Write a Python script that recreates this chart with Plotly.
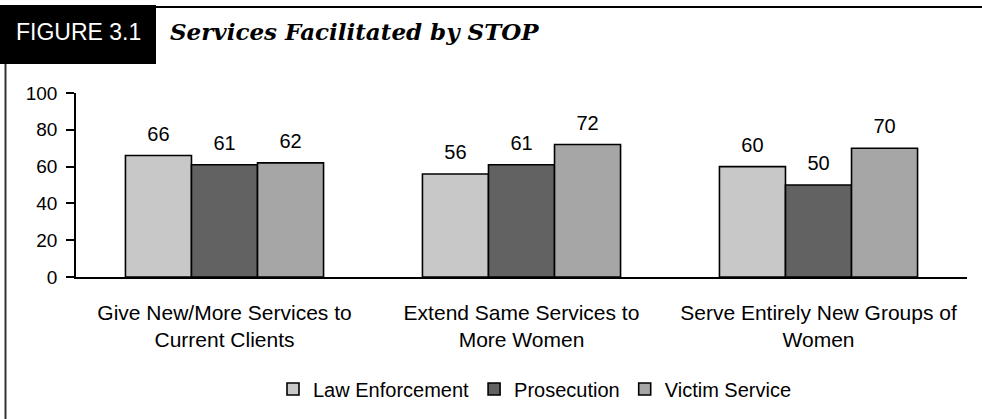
import plotly.graph_objects as go

categories = ["Give New/More Services to<br>Current Clients",
              "Extend Same Services to<br>More Women",
              "Serve Entirely New Groups of<br>Women"]
series_names = ["Law Enforcement", "Prosecution", "Victim Service"]
law_enforcement = [66, 56, 60]
prosecution = [61, 61, 50]
victim_service = [62, 72, 70]
series_values = [law_enforcement, prosecution, victim_service]
colors = ["#C8C8C8", "#626262", "#A6A6A6"]
y_ticks = [0, 20, 40, 60, 80, 100]

W, H = 982, 419
L, R, T, B = 76, 15, 93, 142
pw = W - L - R
ph = H - T - B

def px_x(x):
    return (x - L) / pw

def px_y(y):
    return (H - B - y) / ph

FONT = "Liberation Sans, Arial, sans-serif"

fig = go.Figure()
for name, vals, col in zip(series_names, series_values, colors):
    fig.add_trace(go.Bar(
        x=categories, y=vals, name=name,
        marker=dict(color=col, line=dict(color="black", width=1.6)),
        offsetgroup=name,
    ))
for name, vals in zip(series_names, series_values):
    fig.add_trace(go.Scatter(
        x=categories, y=vals, mode="markers+text", text=[str(v) for v in vals],
        textposition="top center", showlegend=False, hoverinfo="skip",
        offsetgroup=name, marker=dict(size=14, opacity=0),
        textfont=dict(family=FONT, size=20, color="black"),
        cliponaxis=False,
    ))

shapes = [
    dict(type="rect", xref="paper", yref="paper",
         x0=px_x(0), x1=px_x(156), y0=px_y(64), y1=px_y(5),
         fillcolor="black", line=dict(width=0), layer="above"),
    dict(type="line", xref="paper", yref="paper",
         x0=px_x(156), x1=px_x(982), y0=px_y(7), y1=px_y(7),
         line=dict(color="black", width=2)),
    dict(type="line", xref="paper", yref="paper",
         x0=px_x(5.5), x1=px_x(5.5), y0=px_y(64), y1=px_y(419),
         line=dict(color="#333333", width=2)),
]

annotations = [
    dict(text="FIGURE 3.1", xref="paper", yref="paper",
         x=px_x(78), y=px_y(32), xanchor="center", yanchor="middle",
         showarrow=False, font=dict(family=FONT, size=23, color="white")),
    dict(text="<b><i>Services Facilitated by STOP</i></b>", xref="paper", yref="paper",
         x=px_x(168), y=px_y(32), xanchor="left", yanchor="middle",
         showarrow=False, font=dict(family="DejaVu Serif, serif",
                                    size=23, color="black")),
]

fig.update_layout(
    width=W, height=H,
    margin=dict(l=L, r=R, t=T, b=B, pad=0, autoexpand=False),
    paper_bgcolor="white", plot_bgcolor="white",
    barmode="group", bargap=0.333, bargroupgap=0,
    scattermode="group", scattergap=0.333,
    font=dict(family=FONT, color="black"),
    showlegend=True,
    legend=dict(orientation="h", xanchor="center", yanchor="middle",
                x=px_x(535), y=px_y(389), font=dict(family=FONT, size=20),
                itemwidth=30, traceorder="normal", bgcolor="rgba(0,0,0,0)"),
    shapes=shapes, annotations=annotations,
)
fig.update_xaxes(showline=True, linecolor="black", linewidth=1.6,
                 ticks="", showgrid=False, tickfont=dict(family=FONT, size=21),
                 ticklabelstandoff=16)
fig.update_yaxes(range=[0, 100], tickvals=y_ticks, showline=True, linecolor="black",
                 linewidth=1.6, ticks="outside", ticklen=8, tickwidth=1.6,
                 tickcolor="black", showgrid=False, zeroline=False,
                 tickfont=dict(family=FONT, size=19), ticklabelstandoff=5)

fig.write_html("out.html", config={"displayModeBar": False},
               post_script="document.body.style.margin='0';document.body.style.overflow='hidden';")
